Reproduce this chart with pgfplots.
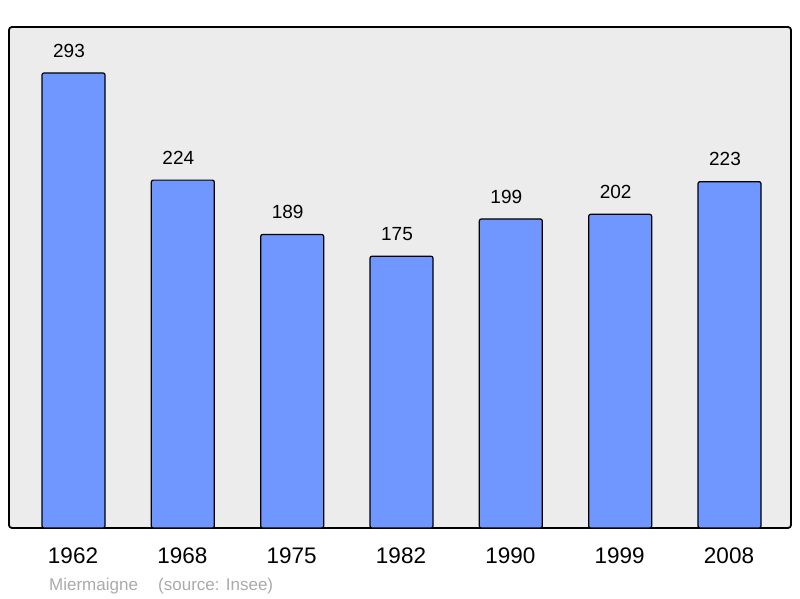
\documentclass[border=0pt]{standalone}
\usepackage{fontspec}
\setmainfont{Liberation Sans}
\usepackage{pgfplots}
\pgfplotsset{compat=1.18}
\definecolor{bgc}{RGB}{236,236,236}
\definecolor{barc}{RGB}{112,150,255}
\definecolor{srcc}{RGB}{170,170,170}
\begin{document}
\begin{tikzpicture}[x=1pt,y=1pt]
\path[use as bounding box] (0,0) rectangle (800,598);
\begin{axis}[
  at={(9pt,70pt)}, anchor=south west,
  scale only axis, width=782pt, height=501pt,
  xmin=-0.590, xmax=6.5625, ymin=0, ymax=322.6,
  axis background/.style={fill=bgc},
  axis line style={line width=1.8pt, rounded corners=3pt},
  ybar, bar width=63pt,
  xtick={0,1,2,3,4,5,6},
  xticklabels={1962,1968,1975,1982,1990,1999,2008},
  ytick=\empty,
  major tick length=0pt,
  /pgf/number format/assume math mode=true,
  xticklabel style={anchor=north, inner sep=0pt, yshift=-20pt, xshift=-0.5pt, font=\fontsize{22.5}{25}\selectfont},
  nodes near coords,
  every node near coord/.append style={anchor=south, inner sep=0pt, yshift=15pt, xshift=-4.5pt, font=\fontsize{19}{22}\selectfont},
]
\addplot[fill=barc, draw=black, line width=1.2pt, rounded corners=2pt] coordinates {
(0,293) (1,224) (2,189) (3,175) (4,199) (5,202) (6,223)};
\end{axis}
\node[anchor=base west, inner sep=0pt, text=srcc, font=\fontsize{17}{20}\selectfont] at (49,8) {Miermaigne};
\node[anchor=base west, inner sep=0pt, text=srcc, font=\fontsize{17}{20}\selectfont] at (158,8) {(source: Insee)};
\end{tikzpicture}
\end{document}
